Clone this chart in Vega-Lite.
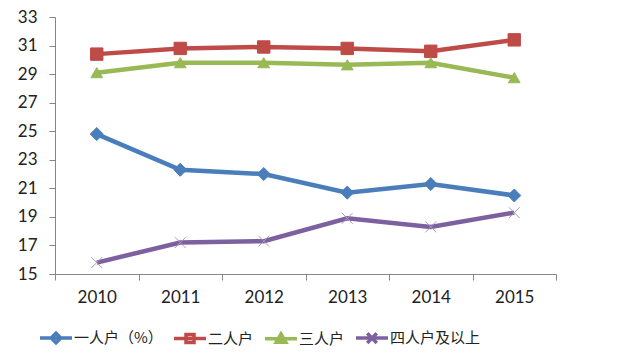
{
  "$schema": "https://vega.github.io/schema/vega-lite/v6.json",
  "width": 501,
  "height": 257,
  "autosize": {"type": "none"},
  "padding": {"left": 55, "top": 17, "right": 76, "bottom": 85},
  "background": "white",
  "config": {
    "view": {"stroke": null},
    "legend": {
      "orient": "none",
      "direction": "horizontal",
      "legendX": -17,
      "legendY": 303,
      "title": null,
      "labelFont": "Noto Sans CJK SC",
      "labelFontSize": 15,
      "labelColor": "#222222",
      "labelOffset": 0,
      "columnPadding": 4,
      "symbolSize": 1024,
      "symbolStrokeWidth": 3.5
    }
  },
  "data": {
    "values": [
      {"year": "2010", "s": "一人户（%）", "v": 24.8},
      {"year": "2011", "s": "一人户（%）", "v": 22.3},
      {"year": "2012", "s": "一人户（%）", "v": 22.0},
      {"year": "2013", "s": "一人户（%）", "v": 20.7},
      {"year": "2014", "s": "一人户（%）", "v": 21.3},
      {"year": "2015", "s": "一人户（%）", "v": 20.5},
      {"year": "2010", "s": "二人户", "v": 30.4},
      {"year": "2011", "s": "二人户", "v": 30.8},
      {"year": "2012", "s": "二人户", "v": 30.9},
      {"year": "2013", "s": "二人户", "v": 30.8},
      {"year": "2014", "s": "二人户", "v": 30.6},
      {"year": "2015", "s": "二人户", "v": 31.4},
      {"year": "2010", "s": "三人户", "v": 29.1},
      {"year": "2011", "s": "三人户", "v": 29.8},
      {"year": "2012", "s": "三人户", "v": 29.8},
      {"year": "2013", "s": "三人户", "v": 29.65},
      {"year": "2014", "s": "三人户", "v": 29.8},
      {"year": "2015", "s": "三人户", "v": 28.75},
      {"year": "2010", "s": "四人户及以上", "v": 15.8},
      {"year": "2011", "s": "四人户及以上", "v": 17.2},
      {"year": "2012", "s": "四人户及以上", "v": 17.3},
      {"year": "2013", "s": "四人户及以上", "v": 18.9},
      {"year": "2014", "s": "四人户及以上", "v": 18.3},
      {"year": "2015", "s": "四人户及以上", "v": 19.3}
    ]
  },
  "encoding": {
    "x": {
      "field": "year",
      "type": "nominal",
      "scale": {"type": "band", "paddingInner": 0, "paddingOuter": 0},
      "axis": {
        "title": null,
        "labelAngle": 0,
        "labelFont": "Lato",
        "labelFontSize": 17,
        "labelColor": "#222222",
        "labelPadding": 9,
        "domainColor": "#868686",
        "tickColor": "#868686",
        "tickSize": 6,
        "tickBand": "extent",
        "grid": false
      }
    },
    "y": {
      "field": "v",
      "type": "quantitative",
      "scale": {"domain": [15, 33], "nice": false, "zero": false},
      "axis": {
        "title": null,
        "values": [15, 17, 19, 21, 23, 25, 27, 29, 31, 33],
        "labelFont": "Lato",
        "labelFontSize": 17,
        "labelColor": "#222222",
        "labelPadding": 12,
        "domainColor": "#868686",
        "tickColor": "#868686",
        "tickSize": 6,
        "grid": false
      }
    }
  },
  "layer": [
    {
      "mark": {"type": "line", "strokeWidth": 4.5},
      "encoding": {
        "color": {
          "field": "s",
          "type": "nominal",
          "scale": {
            "domain": ["一人户（%）", "二人户", "三人户", "四人户及以上"],
            "range": ["#4A7EBB", "#BE4B48", "#98B954", "#7D60A0"]
          },
          "legend": null
        }
      }
    },
    {
      "mark": {"type": "point", "filled": true, "opacity": 1, "strokeWidth": 1},
      "encoding": {
        "shape": {
          "field": "s",
          "type": "nominal",
          "scale": {
            "domain": ["一人户（%）", "二人户", "三人户", "四人户及以上"],
            "range": ["diamond", "square", "triangle-up", "M-1,-1L1,1M-1,1L1,-1"]
          },
          "legend": null
        },
        "size": {
          "field": "s",
          "type": "nominal",
          "scale": {
            "domain": ["一人户（%）", "二人户", "三人户", "四人户及以上"],
            "range": [170, 120, 110, 160]
          },
          "legend": null
        },
        "fill": {
          "field": "s",
          "type": "nominal",
          "scale": {
            "domain": ["一人户（%）", "二人户", "三人户", "四人户及以上"],
            "range": ["#4A7EBB", "#BE4B48", "#98B954", "#7D60A0"]
          },
          "legend": null
        },
        "stroke": {
          "field": "s",
          "type": "nominal",
          "scale": {
            "domain": ["一人户（%）", "二人户", "三人户", "四人户及以上"],
            "range": ["#4A7EBB", "#BE4B48", "#98B954", "#A79BB8"]
          },
          "legend": null
        }
      }
    },
    {
      "mark": {"type": "point", "filled": true, "opacity": 0},
      "encoding": {
        "shape": {
          "field": "s",
          "type": "nominal",
          "scale": {
            "domain": ["一人户（%）", "二人户", "三人户", "四人户及以上"],
            "range": [
              "M-1,0H1M0,-0.3L0.3,0L0,0.3L-0.3,0Z",
              "M-1,0H1M-0.25,-0.25H0.25V0.25H-0.25Z",
              "M-1,0H1M0,-0.3L0.3,0.22L-0.3,0.22Z",
              "M-1,0H1M-0.3,-0.3L0.3,0.3M-0.3,0.3L0.3,-0.3"
            ]
          }
        },
        "fill": {
          "field": "s",
          "type": "nominal",
          "scale": {
            "domain": ["一人户（%）", "二人户", "三人户", "四人户及以上"],
            "range": ["#4A7EBB", "#BE4B48", "#98B954", "#7D60A0"]
          }
        },
        "stroke": {
          "field": "s",
          "type": "nominal",
          "scale": {
            "domain": ["一人户（%）", "二人户", "三人户", "四人户及以上"],
            "range": ["#4A7EBB", "#BE4B48", "#98B954", "#7D60A0"]
          }
        }
      }
    }
  ],
  "resolve": {"scale": {"shape": "independent", "stroke": "independent", "fill": "independent", "size": "independent"}}
}
